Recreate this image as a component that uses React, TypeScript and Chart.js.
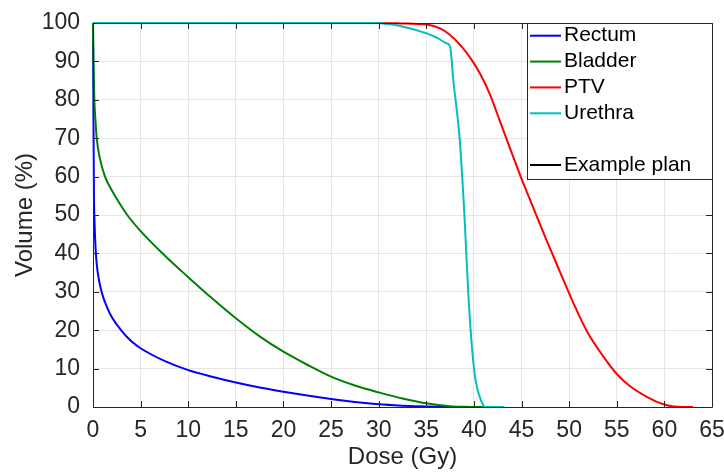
import React, { useEffect, useRef } from 'react';
import { Chart, registerables } from 'chart.js';

Chart.register(...registerables);

const FONT = '"Liberation Sans", Arial, Helvetica, sans-serif';
const AXIS_COLOR = '#262626';
const GRID_COLOR = '#e6e6e6';

const xTitle = 'Dose (Gy)';
const yTitle = 'Volume (%)';

const rectumDose = [0, 0.05, 0.1, 0.15, 0.3, 0.5, 0.9, 1.5, 2, 3, 4, 5, 7.5, 10, 12.5, 15, 17.5, 20, 22.5, 25, 27.5, 30, 32.5, 35, 37, 38];
const rectumVolume = [100, 75, 55, 49, 40, 35, 30, 25.8, 23.3, 19.8, 17.2, 15.3, 12, 9.6, 7.9, 6.4, 5.1, 4.0, 3.0, 2.1, 1.3, 0.7, 0.35, 0.12, 0.03, 0];

const bladderDose = [0, 0.05, 0.14, 0.25, 0.39, 0.7, 1.26, 2, 2.55, 3.6, 5, 7.5, 10, 12.5, 15, 17.5, 20, 22.5, 25, 27.5, 30, 32.5, 35, 37.5, 39, 41];
const bladderVolume = [100, 90, 80, 75, 70, 65, 60, 56.3, 54, 50, 45.8, 39.5, 33.8, 28.3, 23.1, 18.4, 14.4, 11, 7.9, 5.6, 3.8, 2.2, 0.95, 0.2, 0.05, 0];

const ptvDose = [0, 30, 32.25, 35.05, 36.45, 37.5, 38.55, 39.6, 40.65, 41.7, 42.75, 43.8, 44.85, 46, 47.5, 49, 50.3, 51.85, 53.6, 55, 56.4, 58.2, 59.9, 61, 62, 63];
const ptvVolume = [100, 100, 99.9, 99.6, 98.6, 96.9, 94.3, 91.0, 86.8, 81.3, 74.3, 67.3, 60.4, 53.3, 44.2, 35.4, 27.9, 19.8, 13.1, 8.6, 5.4, 2.6, 0.7, 0.1, 0, 0];

const urethraDose = [0, 30, 30.7, 32.25, 35.05, 36, 37.15, 37.5, 37.85, 38.5, 39.0, 39.4, 39.8, 40.2, 40.8, 41.2, 43.2];
const urethraVolume = [100, 100, 99.8, 99.2, 97.3, 96.3, 94.7, 93.8, 84.7, 70, 50, 30, 15.3, 6.6, 1.4, 0, 0];

const seriesLabels = ['Rectum', 'Bladder', 'PTV', 'Urethra'];
const seriesColors = ['#0000ff', '#008000', '#ff0000', '#00bfbf'];
const seriesDose = [rectumDose, bladderDose, ptvDose, urethraDose];
const seriesVolume = [rectumVolume, bladderVolume, ptvVolume, urethraVolume];

const legendLabels = ['Rectum', 'Bladder', 'PTV', 'Urethra', '', 'Example plan'];
const legendColors = ['#0000ff', '#008000', '#ff0000', '#00bfbf', '', '#000000'];

const xMin = 0, xMax = 65, xStep = 5;
const yMin = 0, yMax = 100, yStep = 10;

const framePlugin = {
  id: 'frame',
  afterDraw(chart: any) {
    const { ctx, chartArea } = chart;
    const { left, right, top, bottom } = chartArea;
    const xs = chart.scales.x;
    const ys = chart.scales.y;
    const al = (v: number) => Math.round(v) + 0.5;
    ctx.save();
    ctx.strokeStyle = AXIS_COLOR;
    ctx.lineWidth = 1;
    ctx.beginPath();
    ctx.rect(al(left), al(top), Math.round(right) - Math.round(left), Math.round(bottom) - Math.round(top));
    ctx.stroke();
    const tl = 6;
    ctx.beginPath();
    xs.ticks.forEach((t: any) => {
      const px = al(xs.getPixelForValue(t.value));
      ctx.moveTo(px, bottom);
      ctx.lineTo(px, bottom - tl);
      ctx.moveTo(px, top);
      ctx.lineTo(px, top + tl);
    });
    ys.ticks.forEach((t: any) => {
      const py = al(ys.getPixelForValue(t.value));
      ctx.moveTo(left, py);
      ctx.lineTo(left + tl, py);
      ctx.moveTo(right, py);
      ctx.lineTo(right - tl, py);
    });
    ctx.stroke();

    // legend
    const lw = 185;
    const lh = 156;
    const lx = Math.round(right) - lw;
    const ly = Math.round(top);
    ctx.fillStyle = '#ffffff';
    ctx.fillRect(lx, ly, lw, lh);
    ctx.strokeStyle = AXIS_COLOR;
    ctx.strokeRect(lx + 0.5, ly + 0.5, lw, lh);
    ctx.font = `21px ${FONT}`;
    ctx.textBaseline = 'middle';
    ctx.textAlign = 'left';
    legendLabels.forEach((lab, i) => {
      if (!lab) return;
      const cy = ly + 12.7 + i * 25.86;
      ctx.strokeStyle = legendColors[i];
      ctx.lineWidth = 2;
      ctx.beginPath();
      ctx.moveTo(lx + 3, cy);
      ctx.lineTo(lx + 34, cy);
      ctx.stroke();
      ctx.fillStyle = '#000000';
      ctx.fillText(lab, lx + 37, cy);
    });
    ctx.restore();
  },
};

export default function App() {
  const ref = useRef<HTMLCanvasElement | null>(null);
  useEffect(() => {
    document.body.style.margin = '0';
    if (!ref.current) return;
    const datasets: any[] = seriesLabels.map((label, i) => ({
      label,
      data: seriesDose[i].map((d, j) => ({ x: d, y: seriesVolume[i][j] })),
      borderColor: seriesColors[i],
      backgroundColor: seriesColors[i],
      borderWidth: 2,
      pointRadius: 0,
      fill: false,
      cubicInterpolationMode: 'monotone',
      clip: false,
      order: seriesLabels.length - i,
    }));
    datasets.push({
      label: 'Example plan',
      data: [],
      borderColor: '#000000',
      borderWidth: 2,
      pointRadius: 0,
      order: 10,
    });
    const chart = new Chart(ref.current, {
      type: 'line',
      data: { datasets },
      plugins: [framePlugin],
      options: {
        animation: false,
        responsive: false,
        maintainAspectRatio: false,
        layout: { padding: { top: 23, right: 12, left: 0, bottom: 0 } },
        plugins: { legend: { display: false }, tooltip: { enabled: false } },
        scales: {
          x: {
            type: 'linear',
            min: xMin,
            max: xMax,
            ticks: { stepSize: xStep, color: AXIS_COLOR, font: { family: FONT, size: 23 }, padding: 10, maxRotation: 0 },
            grid: { color: GRID_COLOR, drawTicks: false },
            border: { display: false },
            title: { display: true, text: xTitle, color: AXIS_COLOR, font: { family: FONT, size: 24 }, padding: { top: 0, bottom: 0 } },
            afterFit: (s: any) => { s.height = 65; s.paddingLeft = 0; s.paddingRight = 0; s.paddingTop = 0; s.paddingBottom = 0; },
          },
          y: {
            type: 'linear',
            min: yMin,
            max: yMax,
            ticks: { stepSize: yStep, color: AXIS_COLOR, font: { family: FONT, size: 23 }, padding: 13 },
            grid: { color: GRID_COLOR, drawTicks: false },
            border: { display: false },
            title: { display: true, text: yTitle, color: AXIS_COLOR, font: { family: FONT, size: 24 }, padding: { top: 11, bottom: 0 } },
            afterFit: (s: any) => { s.width = 93; s.paddingLeft = 0; s.paddingRight = 0; s.paddingTop = 0; s.paddingBottom = 0; },
          },
        },
      } as any,
    });
    return () => chart.destroy();
  }, []);
  return (
    <div style={{ width: 724, height: 472 }}>
      <canvas ref={ref} width={724} height={472} style={{ display: 'block' }} />
    </div>
  );
}
